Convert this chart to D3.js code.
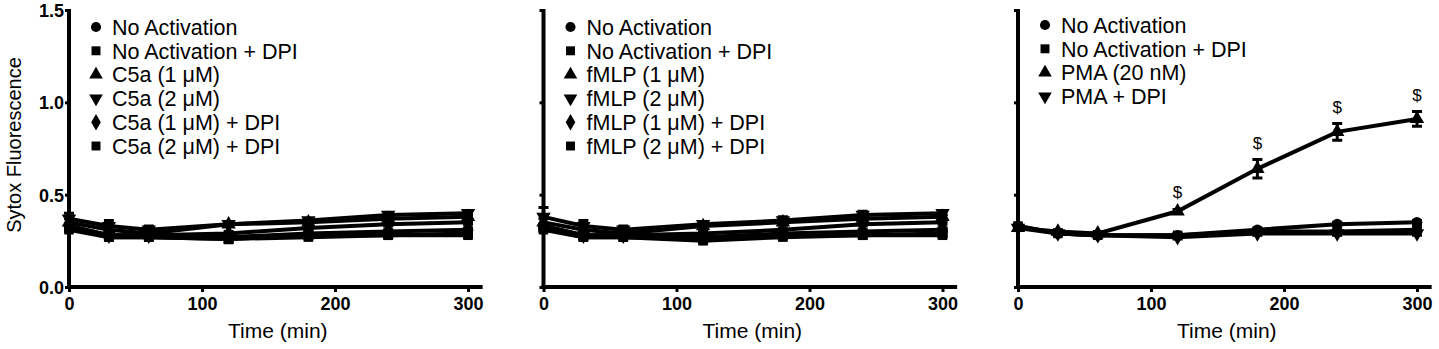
<!DOCTYPE html>
<html lang="en">

<head>
  <meta charset="UTF-8">
  <title>Sytox Fluorescence</title>
  <style>
    body {
      margin: 0;
      background: #fff;
    }

    text {
      font-family: "Liberation Sans", Arial, sans-serif;
    }
  </style>
</head>

<body>

  <script src="https://d3js.org/d3.v7.min.js"></script>

  <script>
    // time points (min)
    const times = [0, 30, 60, 120, 180, 240, 300];

    const xTicks = [0, 100, 200, 300];
    const yTicks = [0, 0.5, 1.0, 1.5];

    // panel 1 : C5a
    const c5aLabels = ["No Activation", "No Activation + DPI", "C5a (1 μM)", "C5a (2 μM)", "C5a (1 μM) + DPI", "C5a (2 μM) + DPI"];
    const c5aMeans = [
      [0.33, 0.28, 0.28, 0.27, 0.29, 0.30, 0.31],
      [0.32, 0.27, 0.27, 0.26, 0.27, 0.28, 0.28],
      [0.35, 0.31, 0.29, 0.34, 0.35, 0.37, 0.38],
      [0.37, 0.33, 0.31, 0.34, 0.36, 0.39, 0.40],
      [0.33, 0.28, 0.28, 0.29, 0.32, 0.34, 0.35],
      [0.31, 0.27, 0.27, 0.26, 0.28, 0.28, 0.29]
    ];
    const c5aErrors = [
      [0.01, 0.01, 0.01, 0.01, 0.01, 0.01, 0.01],
      [0.01, 0.01, 0.01, 0.01, 0.01, 0.01, 0.01],
      [0.02, 0.02, 0.01, 0.01, 0.01, 0.01, 0.01],
      [0.03, 0.03, 0.02, 0.01, 0.01, 0.01, 0.01],
      [0.01, 0.01, 0.01, 0.01, 0.01, 0.01, 0.01],
      [0.01, 0.01, 0.01, 0.02, 0.01, 0.01, 0.01]
    ];

    // panel 2 : fMLP
    const fmlpLabels = ["No Activation", "No Activation + DPI", "fMLP (1 μM)", "fMLP (2 μM)", "fMLP (1 μM) + DPI", "fMLP (2 μM) + DPI"];
    const fmlpMeans = [
      [0.33, 0.28, 0.28, 0.27, 0.29, 0.30, 0.31],
      [0.32, 0.27, 0.27, 0.25, 0.27, 0.28, 0.28],
      [0.35, 0.31, 0.29, 0.33, 0.35, 0.37, 0.38],
      [0.38, 0.33, 0.31, 0.34, 0.36, 0.39, 0.40],
      [0.33, 0.28, 0.28, 0.29, 0.31, 0.34, 0.35],
      [0.31, 0.27, 0.27, 0.26, 0.28, 0.28, 0.29]
    ];
    const fmlpErrors = [
      [0.01, 0.01, 0.01, 0.01, 0.01, 0.01, 0.01],
      [0.01, 0.01, 0.01, 0.01, 0.01, 0.01, 0.01],
      [0.02, 0.02, 0.01, 0.01, 0.01, 0.01, 0.01],
      [0.05, 0.03, 0.02, 0.01, 0.02, 0.02, 0.01],
      [0.01, 0.01, 0.01, 0.01, 0.01, 0.01, 0.01],
      [0.01, 0.01, 0.01, 0.02, 0.01, 0.01, 0.01]
    ];

    // panel 3 : PMA
    const pmaLabels = ["No Activation", "No Activation + DPI", "PMA (20 nM)", "PMA + DPI"];
    const pmaMeans = [
      [0.33, 0.29, 0.28, 0.28, 0.31, 0.34, 0.35],
      [0.33, 0.29, 0.28, 0.28, 0.30, 0.30, 0.31],
      [0.32, 0.30, 0.29, 0.41, 0.64, 0.84, 0.91],
      [0.32, 0.29, 0.28, 0.27, 0.29, 0.29, 0.29]
    ];
    const pmaErrors = [
      [0.01, 0.01, 0.01, 0.01, 0.01, 0.01, 0.01],
      [0.01, 0.01, 0.01, 0.01, 0.01, 0.01, 0.01],
      [0.01, 0.01, 0.01, 0.01, 0.05, 0.045, 0.04],
      [0.01, 0.01, 0.01, 0.01, 0.01, 0.01, 0.01]
    ];
    // "$" marks on the PMA series
    const pmaSignificant = [120, 180, 240, 300];

    const panels = [
      { labels: c5aLabels, means: c5aMeans, errors: c5aErrors, sig: [], yLabels: true },
      { labels: fmlpLabels, means: fmlpMeans, errors: fmlpErrors, sig: [], yLabels: false },
      { labels: pmaLabels, means: pmaMeans, errors: pmaErrors, sig: pmaSignificant, yLabels: false }
    ];

    const width = 1439, height = 349;
    const shapes = [d3.symbolCircle, d3.symbolSquare, d3.symbolTriangle, "down", d3.symbolDiamond, d3.symbolSquare];

    const svg = d3.select("body").append("svg")
      .attr("width", width)
      .attr("height", height);

    const y = d3.scaleLinear().domain([0, 1.5]).range([287, 10]);

    function marker(i, size) {
      const s = shapes[i];
      if (s === "down") return d3.symbol(d3.symbolTriangle, size)();
      return d3.symbol(s, size)();
    }

    panels.forEach((p, k) => {
      const x0 = 69 + k * 474.5;
      const x = d3.scaleLinear().domain([0, 300]).range([x0, x0 + 399]);
      const g = svg.append("g");

      // axes
      const xAxis = g.append("g")
        .attr("transform", `translate(0,${y(0)})`)
        .call(d3.axisBottom(d3.scaleLinear().domain([0, 311]).range([x0, x(311)]))
          .tickValues(xTicks).tickSize(5).tickSizeOuter(0).tickPadding(3));
      const yAxis = g.append("g")
        .attr("transform", `translate(${x0},0)`)
        .call(d3.axisLeft(y).tickValues(yTicks).tickSize(4).tickSizeOuter(0).tickPadding(1)
          .tickFormat(p.yLabels ? d3.format(".1f") : ""));

      [xAxis, yAxis].forEach(a => {
        a.select(".domain").attr("stroke", "#000").attr("stroke-width", 4);
        a.selectAll(".tick line").attr("stroke", "#000").attr("stroke-width", 3);
        a.selectAll(".tick text")
          .attr("fill", "#000")
          .style("font-size", "18px")
          .style("font-weight", "bold");
      });
      yAxis.select(".domain").attr("d", `M0,${y(0) + 2}V${y(1.5) - 1}`);
      xAxis.select(".domain").attr("d", `M${x0 - 2},0H${x(311)}`);
      xAxis.selectAll(".tick text").attr("dy", "0.85em");
      yAxis.selectAll(".tick text").attr("dy", "0.36em");

      g.append("text")
        .attr("x", x(157))
        .attr("y", 338)
        .attr("text-anchor", "middle")
        .style("font-size", "21px")
        .text("Time (min)");

      if (k === 0) {
        g.append("text")
          .attr("transform", `translate(21,${145}) rotate(-90)`)
          .attr("text-anchor", "middle")
          .style("font-size", "20px")
          .text("Sytox Fluorescence");
      }

      const line = d3.line().x((d, i) => x(times[i])).y(d => y(d));

      // series (draw in reverse so the first ones sit on top)
      p.means.slice().reverse().forEach((vals, rj) => {
        const j = p.means.length - 1 - rj;
        const errs = p.errors[j];
        const sg = g.append("g");
        sg.append("path")
          .datum(vals)
          .attr("fill", "none")
          .attr("stroke", "#000")
          .attr("stroke-width", 4)
          .attr("d", line);

        sg.selectAll(".err")
          .data(vals)
          .join("path")
          .attr("stroke", "#000")
          .attr("stroke-width", 3)
          .attr("fill", "none")
          .attr("d", (d, i) => {
            const cx = x(times[i]);
            const t = y(d + errs[i]), b = y(d - errs[i]);
            return `M${cx - 5},${t}H${cx + 5}M${cx},${t}V${b}M${cx - 5},${b}H${cx + 5}`;
          });

        sg.selectAll(".mk")
          .data(vals)
          .join("path")
          .attr("d", marker(j, 90))
          .attr("fill", "#000")
          .attr("transform", (d, i) => `translate(${x(times[i])},${y(d)})${shapes[j] === "down" ? " rotate(180)" : ""}`);
      });

      // significance marks
      const pmaIdx = 2;
      p.sig.forEach(t => {
        const i = times.indexOf(t);
        const v = p.means[pmaIdx][i] + p.errors[pmaIdx][i];
        g.append("text")
          .attr("x", x(t))
          .attr("y", y(v) - 11)
          .attr("text-anchor", "middle")
          .style("font-size", "17px")
          .text("$");
      });

      // legend
      const lg = g.append("g");
      p.labels.forEach((lab, j) => {
        const ly = (k === 2 ? 25 : 27) + j * 23.8;
        lg.append("path")
          .attr("d", marker(j, 80))
          .attr("fill", "#000")
          .attr("transform", `translate(${x0 + 27},${ly})${shapes[j] === "down" ? " rotate(180)" : ""}`);
        lg.append("text")
          .attr("x", x0 + 43)
          .attr("y", ly)
          .attr("dy", "0.36em")
          .style("font-size", "21.5px")
          .text(lab);
      });
    });
  </script>
</body>

</html>
